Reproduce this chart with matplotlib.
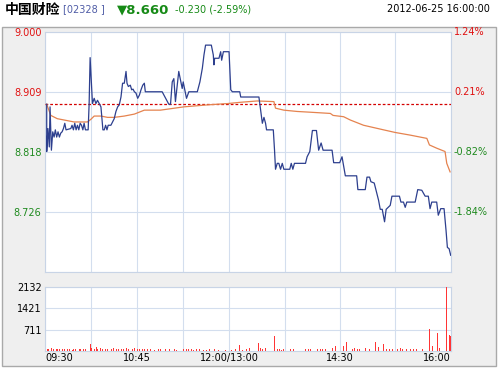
import matplotlib
matplotlib.use('Agg')
import matplotlib.pyplot as plt
from matplotlib.patches import Rectangle
from matplotlib.transforms import blended_transform_factory

plt.rcParams['font.family'] = ['DejaVu Sans']

# ---------------- data ----------------
title_name = '中国财险'
title_code = '[02328 ]'
last_price = '▼8.660'
change_text = '-0.230 (-2.59%)'
stamp = '2012-06-25 16:00:00'
prev_close = 8.89

# trading minutes since 09:30 (morning 0-150, afternoon 150-330)
price_t = [1.4, 1.4, 2.4, 3.5, 4.1, 5.2, 6.3, 7.4, 8.4, 9.5,
           10.6, 11.7, 12.8, 13.9, 15.0, 16.1, 17.1, 21.0, 22.0, 23.1,
           24.2, 25.3, 26.4, 27.5, 28.6, 29.7, 30.8, 31.8, 32.9, 35.1,
           35.9, 36.7, 37.6, 38.6, 40.0, 41.4, 42.7, 44.1, 45.5, 46.3,
           47.1, 48.2, 49.3, 50.4, 51.4, 53.6, 56.3, 57.7, 59.1, 60.4,
           61.8, 63.1, 64.5, 65.9, 66.7, 67.8, 69.4, 70.5, 71.6, 72.7,
           74.0, 75.4, 76.8, 78.1, 79.5, 80.8, 81.6, 95.3, 100.7, 102.1,
           103.5, 104.8, 106.1, 108.8, 111.6, 112.4, 115.1, 117.0, 123.9, 126.0,
           128.0, 129.3, 130.6, 135.3, 136.9, 137.4, 138.0, 141.5, 142.9, 143.7,
           145.1, 149.7, 151.1, 152.4, 158.4, 159.2, 174.0, 175.4, 176.8, 178.1,
           179.4, 180.2, 185.7, 186.7, 187.5, 188.9, 190.2, 191.6, 193.0, 194.3,
           199.1, 200.3, 201.6, 202.9, 211.9, 213.2, 215.4, 217.5, 220.8, 222.6,
           224.6, 226.2, 233.5, 234.8, 239.7, 241.6, 244.3, 253.5, 254.5, 260.5,
           261.9, 264.0, 265.1, 267.8, 271.3, 272.7, 274.3, 276.2, 277.5, 280.8,
           282.2, 288.3, 289.5, 291.6, 293.0, 294.3, 301.1, 303.2, 306.5, 309.2,
           311.8, 313.2, 314.6, 318.6, 319.9, 321.9, 324.6, 326.2, 327.3, 328.7,
           330.0]
price_v = [8.890, 8.818, 8.853, 8.825, 8.886, 8.820, 8.848, 8.840, 8.851, 8.840,
           8.848, 8.840, 8.846, 8.848, 8.853, 8.861, 8.851, 8.853, 8.858, 8.851,
           8.861, 8.851, 8.858, 8.851, 8.861, 8.858, 8.851, 8.861, 8.851, 8.851,
           8.891, 8.961, 8.927, 8.891, 8.899, 8.891, 8.896, 8.891, 8.886, 8.868,
           8.851, 8.851, 8.858, 8.851, 8.858, 8.858, 8.868, 8.879, 8.886, 8.889,
           8.901, 8.922, 8.922, 8.940, 8.922, 8.917, 8.919, 8.912, 8.913, 8.909,
           8.907, 8.899, 8.904, 8.912, 8.919, 8.922, 8.909, 8.909, 8.890, 8.890,
           8.924, 8.929, 8.894, 8.940, 8.914, 8.924, 8.899, 8.909, 8.909, 8.924,
           8.945, 8.965, 8.980, 8.980, 8.965, 8.950, 8.960, 8.960, 8.970, 8.957,
           8.970, 8.970, 8.912, 8.909, 8.909, 8.901, 8.901, 8.881, 8.861, 8.870,
           8.861, 8.851, 8.851, 8.820, 8.791, 8.800, 8.800, 8.791, 8.800, 8.791,
           8.791, 8.800, 8.791, 8.800, 8.800, 8.810, 8.818, 8.850, 8.850, 8.820,
           8.831, 8.820, 8.820, 8.801, 8.801, 8.810, 8.781, 8.781, 8.760, 8.760,
           8.779, 8.779, 8.772, 8.770, 8.744, 8.730, 8.730, 8.711, 8.730, 8.736,
           8.750, 8.750, 8.741, 8.741, 8.733, 8.741, 8.741, 8.760, 8.759, 8.750,
           8.750, 8.731, 8.741, 8.741, 8.721, 8.731, 8.731, 8.698, 8.672, 8.670,
           8.660]

avg_t = [1.4, 4.7, 10.0, 15.5, 23.7, 34.5, 37.3, 40.0, 45.5, 50.9,
         56.3, 64.5, 72.7, 80.8, 93.9, 112.9, 132.0, 148.4, 159.2, 172.7,
         186.2, 187.5, 194.3, 205.1, 214.5, 232.1, 234.3, 242.9, 248.3, 259.1,
         275.4, 284.9, 297.0, 310.6, 312.7, 318.7, 325.4, 326.8, 329.5]
avg_v = [8.890, 8.873, 8.868, 8.866, 8.863, 8.863, 8.867, 8.872, 8.872, 8.870,
         8.870, 8.872, 8.875, 8.881, 8.881, 8.886, 8.889, 8.891, 8.893, 8.895,
         8.894, 8.884, 8.881, 8.879, 8.878, 8.876, 8.873, 8.871, 8.866, 8.858,
         8.851, 8.847, 8.843, 8.838, 8.828, 8.823, 8.818, 8.800, 8.787]

vol_t = [0, 2, 3, 5, 7, 9, 10, 12, 14, 16,
         18, 20, 22, 23, 25, 28, 29, 31, 33, 37,
         38, 40, 42, 43, 45, 47, 49, 51, 54, 56,
         58, 60, 62, 64, 66, 68, 71, 73, 75, 77,
         79, 81, 83, 86, 89, 92, 94, 96, 98, 101,
         105, 107, 109, 113, 115, 117, 119, 121, 123, 126,
         129, 131, 134, 138, 141, 144, 147, 152, 155, 158,
         161, 164, 166, 174, 175, 177, 179, 187, 189, 191,
         192, 194, 200, 202, 205, 212, 214, 216, 218, 222,
         224, 226, 228, 234, 236, 243, 245, 250, 252, 254,
         256, 261, 264, 269, 271, 275, 278, 280, 283, 287,
         289, 291, 294, 297, 300, 302, 305, 307, 313, 315,
         319, 321, 326.8, 327.8, 328.8, 329.6]
vol_v = [245, 70, 60, 80, 60, 70, 50, 60, 70, 60,
         50, 60, 40, 60, 70, 60, 50, 50, 70, 230,
         100, 70, 120, 60, 90, 70, 60, 50, 60, 80,
         60, 70, 50, 60, 80, 60, 70, 90, 60, 50,
         70, 60, 60, 50, 40, 60, 70, 50, 60, 50,
         60, 40, 60, 50, 70, 50, 60, 40, 50, 60,
         40, 40, 50, 60, 40, 50, 40, 40, 50, 200,
         40, 60, 80, 270, 90, 60, 80, 500, 60, 50,
         40, 60, 70, 50, 60, 60, 50, 70, 40, 60,
         50, 70, 60, 100, 170, 150, 280, 60, 80, 50,
         60, 90, 60, 300, 120, 230, 70, 50, 60, 60,
         80, 50, 70, 60, 50, 70, 80, 60, 740, 150,
         580, 80, 2132, 560, 520, 500]

price_labels_left = ['9.000', '8.909', '8.818', '8.726']
price_labels_right = ['1.24%', '0.21%', '-0.82%', '-1.84%']
label_colors = ['#e01010', '#e01010', '#1f8a1f', '#1f8a1f']
vol_ticks = [711, 1421, 2132]
time_ticks = [0, 75, 150, 240, 330]
time_labels = ['09:30', '10:45', '12:00/13:00', '14:30', '16:00']
grid_minutes = [0, 37.5, 75, 112.5, 150, 195, 240, 285, 330]
price_top, price_bottom = 9.000, 8.635

# ---------------- layout ----------------
W, H = 500, 369
fig = plt.figure(figsize=(W / 100, H / 100), dpi=100)
fig.patch.set_facecolor('white')

def fx(px):
    return px / W

def fy(py):
    return 1 - py / H

panel = Rectangle((fx(2), fy(366)), fx(494), (366 - 27) / H, transform=fig.transFigure,
                  facecolor='#efefef', edgecolor='#a9a9a9', lw=1.0, zorder=0)
fig.add_artist(panel)

grid_c = '#d3deee'
spine_c = '#c8d4e6'
fs = 7

ax = fig.add_axes([fx(45), fy(271.7), 405.7 / W, 239.7 / H])
ax.set_facecolor('white')
ax.set_xlim(0, 330)
ax.set_ylim(price_bottom, price_top)
step = (price_top - price_bottom) / 4
yt = [price_top - i * step for i in range(5)]
for v in yt:
    ax.axhline(v, color=grid_c, lw=0.8, zorder=1)
for m in grid_minutes:
    ax.axvline(m, color=grid_c, lw=0.8, zorder=1)
ax.axhline(prev_close, color='#d40000', lw=0.9, ls=(0, (2.2, 1.6)), zorder=3)
ax.plot(avg_t, avg_v, color='#e5834f', lw=0.9, zorder=4)
ax.plot(price_t, price_v, color='#2d3f8e', lw=0.9, zorder=5)
ax.set_yticks(yt[:4])
ax.set_yticklabels(price_labels_left)
for lab, c in zip(ax.get_yticklabels(), label_colors):
    lab.set_color(c)
ax.tick_params(axis='y', length=0, pad=2.5, labelsize=fs)
ax.set_xticks([])
for s in ax.spines.values():
    s.set_color(spine_c)
    s.set_linewidth(0.8)
tr = blended_transform_factory(ax.transAxes, ax.transData)
for v, lab, c in zip(yt[:4], price_labels_right, label_colors):
    ax.text(1 + 3.3 / 405.7, v, lab, transform=tr, ha='left', va='center',
            fontsize=fs, color=c)

axv = fig.add_axes([fx(45), fy(350.7), 405.7 / W, 63.4 / H])
axv.set_facecolor('white')
axv.set_xlim(0, 330)
axv.set_ylim(0, vol_ticks[-1])
for v in vol_ticks:
    axv.axhline(v, color=grid_c, lw=0.8, zorder=1)
for m in grid_minutes:
    axv.axvline(m, color=grid_c, lw=0.8, zorder=1)
axv.bar(vol_t, vol_v, width=0.75, color='#ff3535', zorder=3, linewidth=0)
axv.set_yticks(vol_ticks)
axv.set_yticklabels([str(v) for v in vol_ticks])
axv.tick_params(axis='y', length=0, pad=2.5, labelsize=fs, colors='black')
axv.set_xticks(time_ticks)
axv.set_xticklabels(time_labels)
axv.tick_params(axis='x', length=0, pad=1.5, labelsize=fs, colors='black')
xl = axv.get_xticklabels()
xl[0].set_ha('left')
xl[-1].set_ha('right')
for s in axv.spines.values():
    s.set_color(spine_c)
    s.set_linewidth(0.8)

# header
fig.text(fx(5), fy(9.5), title_name, fontsize=10, weight='bold',
         family=['Noto Sans CJK SC', 'DejaVu Sans'], va='center', ha='left', color='black')
fig.text(fx(63), fy(9.5), title_code, fontsize=7, va='center', ha='left', color='#4f5ca6')
fig.text(fx(117), fy(9.5), last_price, fontsize=9.5, weight='bold', va='center', ha='left',
         color='#168a16')
fig.text(fx(175), fy(9.5), change_text, fontsize=7, va='center', ha='left', color='#168a16')
fig.text(fx(490), fy(9.5), stamp, fontsize=7, va='center', ha='right', color='black')

fig.savefig('out.png', dpi=100, facecolor=fig.get_facecolor())
